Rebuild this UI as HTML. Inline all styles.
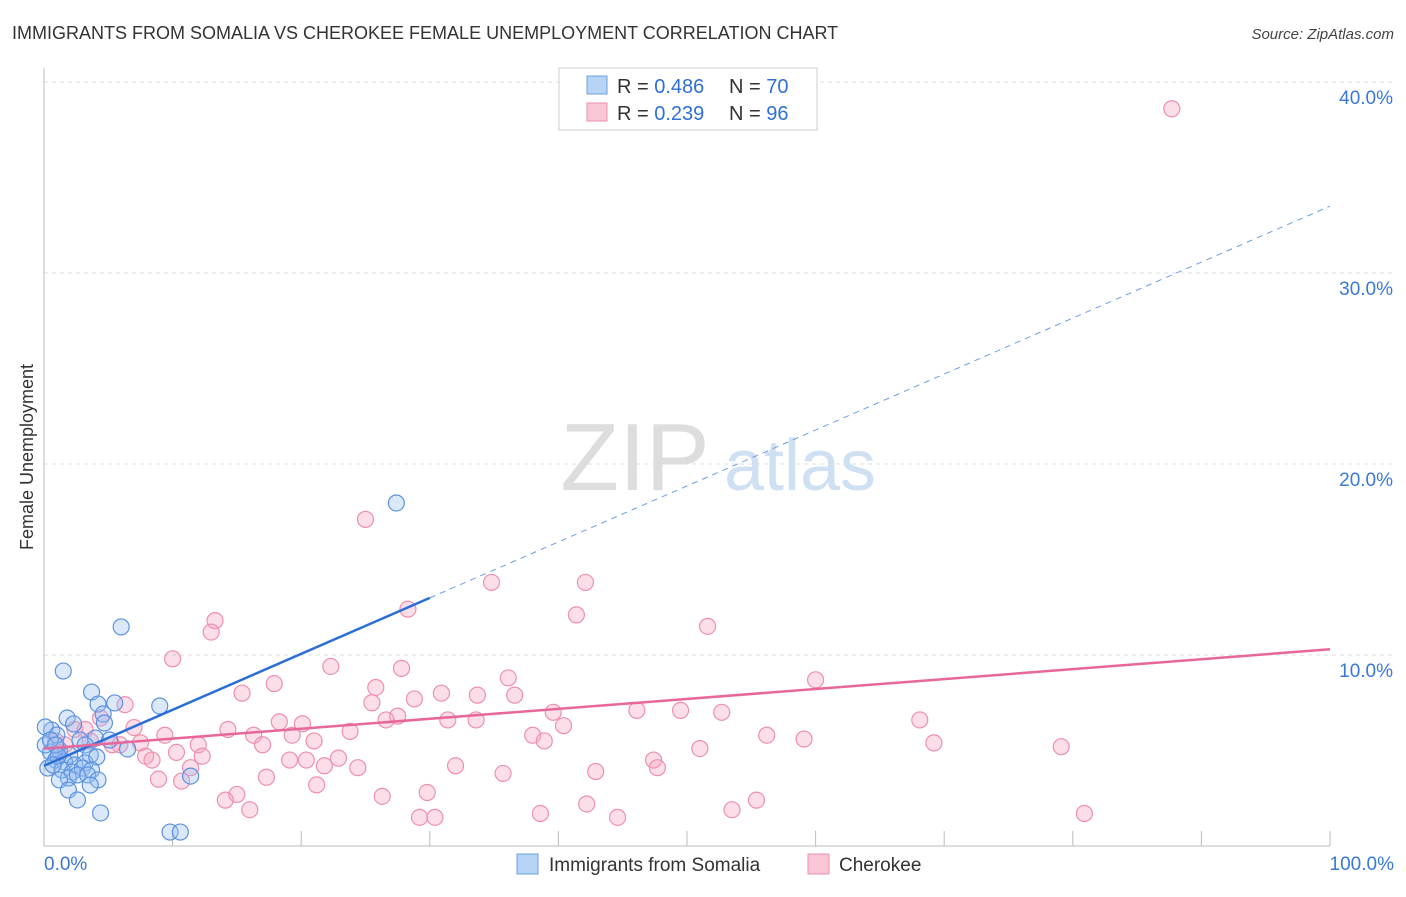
<!DOCTYPE html>
<html><head><meta charset="utf-8"><style>
body{margin:0;background:#fff;font-family:"Liberation Sans",sans-serif;}
svg text{font-family:"Liberation Sans",sans-serif;}
</style></head><body>
<svg id="chart" width="1406" height="892" xmlns="http://www.w3.org/2000/svg">
<text x="12" y="39" font-size="18" fill="#333">IMMIGRANTS FROM SOMALIA VS CHEROKEE FEMALE UNEMPLOYMENT CORRELATION CHART</text>
<text x="1394" y="39" font-size="15" fill="#444" font-style="italic" text-anchor="end">Source: ZipAtlas.com</text>
<text x="33" y="457" font-size="18" fill="#333" text-anchor="middle" transform="rotate(-90 33 457)">Female Unemployment</text>
<g><text x="635" y="490" font-size="96" fill="#ddd" font-family="Liberation Serif" text-anchor="middle">ZIP</text><text x="800" y="490" font-size="72" fill="#cfe0f3" text-anchor="middle">atlas</text></g>
<g id="grid"></g><g id="axes"></g><g id="pts"></g><g id="lines"></g>
<g>
<rect x="559" y="68" width="258" height="62" fill="#fff" stroke="#ccc"/>
<rect x="587" y="76" width="20" height="18" fill="#b7d3f5" stroke="#6b9fe0"/>
<rect x="587" y="103" width="20" height="18" fill="#f9c6d6" stroke="#ee8fb0"/>
<text x="617" y="93" font-size="20" fill="#333">R = <tspan fill="#2f6fd6">0.486</tspan></text>
<text x="729" y="93" font-size="20" fill="#333">N = <tspan fill="#2f6fd6">70</tspan></text>
<text x="617" y="120" font-size="20" fill="#333">R = <tspan fill="#2f6fd6">0.239</tspan></text>
<text x="729" y="120" font-size="20" fill="#333">N = <tspan fill="#2f6fd6">96</tspan></text>
</g>
<g>
<rect x="517" y="854" width="21" height="20" fill="#b7d3f5" stroke="#6b9fe0"/>
<text x="549" y="871" font-size="19" fill="#333">Immigrants from Somalia</text>
<rect x="808" y="854" width="21" height="20" fill="#f9c6d6" stroke="#ee8fb0"/>
<text x="839" y="871" font-size="19" fill="#333">Cherokee</text>
</g>
</svg>
<script>
const yTicks=[10,20,30,40];
const yTickLabels=["10.0%","20.0%","30.0%","40.0%"];
const xTickLabels=["0.0%","100.0%"];
const blueX=[9.0,6.0,1.5,3.7,4.2,5.5,4.6,1.8,2.3,4.7,0.6,0.1,1.0,2.8,4.0,5.1,6.5,3.2,1.2,0.5,2.0,3.6,0.9,1.6,2.4,3.2,4.1,0.3,1.4,2.2,3.0,3.7,1.9,2.6,3.4,1.2,4.2,3.6,1.9,2.6,4.4,11.4,9.8,10.6,27.4,0.1,0.5,0.9,1.1,0.7];
const blueY=[7.33,11.47,9.16,8.06,7.43,7.49,6.91,6.70,6.39,6.44,6.07,6.23,5.81,5.55,5.65,5.55,5.08,5.29,5.03,4.92,4.76,4.76,4.50,4.40,4.24,4.35,4.66,4.08,3.98,3.87,4.08,3.98,3.56,3.72,3.72,3.46,3.46,3.19,2.93,2.41,1.73,3.66,0.73,0.73,17.96,5.29,5.55,5.29,4.71,4.24];
const pinkX=[87.7,25.0,34.8,42.1,28.3,41.4,13.3,13.0,51.6,10.0,22.3,27.8,36.1,60.0,17.9,25.8,15.4,30.9,33.7,36.6,28.8,25.5,6.3,46.1,49.5,52.7,39.6,27.5,26.6,31.4,33.6,18.3,20.1,68.1,40.4,14.3,7.0,23.8,16.3,19.3,38.0,9.4,21.0,56.2,59.1,38.9,69.2,7.5,12.0,17.0,79.1,51.0,10.3,7.9,12.3,22.9,8.4,19.1,20.4,47.4,21.8,32.0,47.7,24.4,11.4,35.7,42.9,8.9,17.3,10.7,21.2,15.0,26.3,29.8,14.1,55.4,42.2,16.0,53.5,38.6,80.9,44.6,29.2,30.4,0.9,1.6,2.4,3.6,5.3,5.9,1.2,3.2,4.4];
const pinkY=[38.6,17.1,13.8,13.8,12.4,12.1,11.8,11.2,11.5,9.8,9.4,9.3,8.8,8.7,8.5,8.3,8.0,8.0,7.9,7.9,7.7,7.5,7.4,7.1,7.1,7.0,7.0,6.8,6.6,6.6,6.6,6.5,6.4,6.6,6.3,6.1,6.2,6.0,5.8,5.8,5.8,5.8,5.5,5.8,5.6,5.5,5.4,5.4,5.3,5.3,5.2,5.1,4.9,4.7,4.7,4.6,4.5,4.5,4.5,4.5,4.2,4.2,4.1,4.1,4.1,3.8,3.9,3.5,3.6,3.4,3.2,2.7,2.6,2.8,2.4,2.4,2.2,1.9,1.9,1.7,1.7,1.5,1.5,1.5,5.5,5.3,6.1,5.5,5.3,5.3,4.9,6.1,6.7];
const blueFit=[4.2,0.293];
const pinkFit=[5.1,0.052];
const blueSolidEnd=30;
const X=v=>44+v*12.86, Y=v=>846-v*19.1;
const NS="http://www.w3.org/2000/svg";
function mk(parent,tag,attrs){const e=document.createElementNS(NS,tag);for(const k in attrs)e.setAttribute(k,attrs[k]);document.getElementById(parent).appendChild(e);return e;}
yTicks.forEach((t,i)=>{
 const l=mk('grid','line',{x1:44,x2:1394,y1:Y(t),y2:Y(t),stroke:'#ddd','stroke-dasharray':'4,4'});
 
 
 const tx=mk('grid','text',{x:1393,y:Y(t)+22,'font-size':19,fill:'#3a78d8','text-anchor':'end'});
 tx.textContent=yTickLabels[i];
 
 
});
mk('axes','line',{x1:44,x2:44,y1:68,y2:846,stroke:'#bbb'});
mk('axes','line',{x1:44,x2:1330,y1:846,y2:846,stroke:'#bbb'});
for(let i=0;i<=10;i++){const t=mk('axes','line',{x1:X(i*10),x2:X(i*10),y1:831,y2:846,stroke:'#bbb'});
 
 }
[[0,'start',44],[100,'end',1394]].forEach((a,i)=>{const t=mk('axes','text',{x:a[2],y:870,'font-size':19,fill:'#3a78d8','text-anchor':a[1]});t.textContent=xTickLabels[i];
 
 });
pinkX.forEach((x,i)=>{const c=mk('pts','circle',{cx:X(x),cy:Y(pinkY[i]),r:8,fill:'rgba(244,160,188,0.35)',stroke:'#ee8fb0','stroke-width':1.2});
 
 });
blueX.forEach((x,i)=>{const c=mk('pts','circle',{cx:X(x),cy:Y(blueY[i]),r:8,fill:'rgba(150,190,240,0.35)',stroke:'#5b92e0','stroke-width':1.2});
 
 });
const bf=v=>blueFit[0]+blueFit[1]*v, pf=v=>pinkFit[0]+pinkFit[1]*v;
const l1=mk('lines','line',{x1:X(0),y1:Y(bf(0)),x2:X(blueSolidEnd),y2:Y(bf(blueSolidEnd)),stroke:'#2b6fd6','stroke-width':2.5});


const l2=mk('lines','line',{x1:X(blueSolidEnd),y1:Y(bf(blueSolidEnd)),x2:X(100),y2:Y(bf(100)),stroke:'#6b9fe0','stroke-width':1,'stroke-dasharray':'6,5'});


const l3=mk('lines','line',{x1:X(0),y1:Y(pf(0)),x2:X(100),y2:Y(pf(100)),stroke:'#e8679a','stroke-width':2.5});


</script>
</body></html>
